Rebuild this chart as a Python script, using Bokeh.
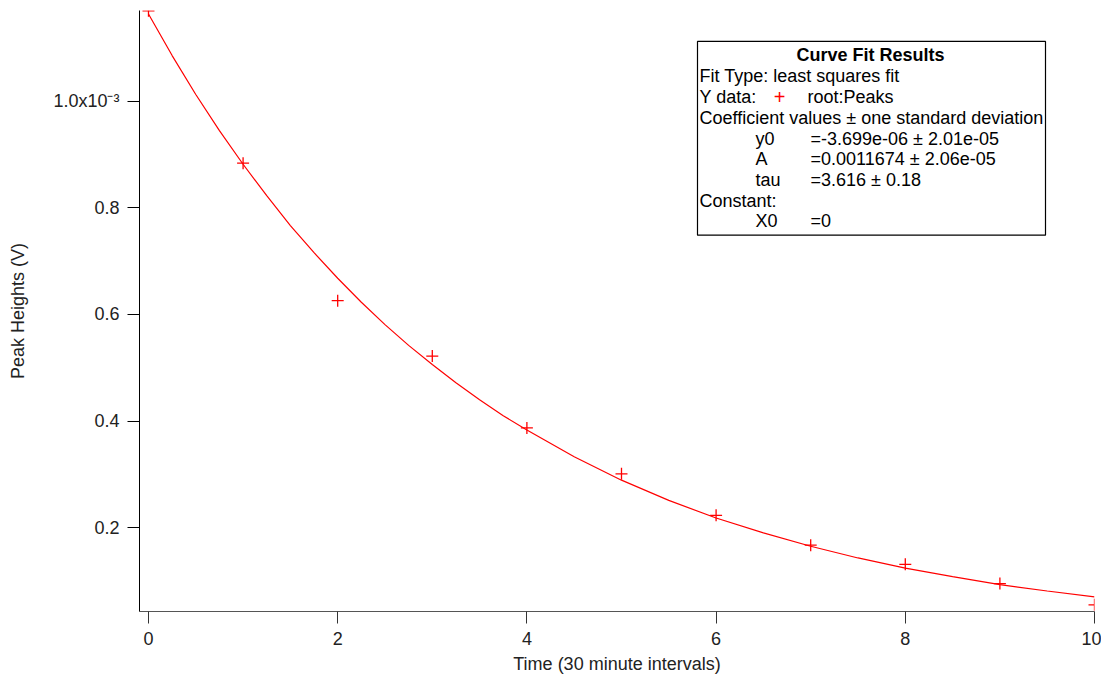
from bokeh.plotting import figure
from bokeh.models import Range1d, FixedTicker, BoxAnnotation, Label
from bokeh.embed import file_html
from bokeh.resources import INLINE

# peak heights, in units of 1e-3 V
time = [0, 1, 2, 3, 4, 5, 6, 7, 8, 9, 10]
peaks = [1.170, 0.884, 0.626, 0.522, 0.387, 0.301, 0.223, 0.167, 0.131, 0.095, 0.055]

# fitted curve
fit_time = [0, 0.25, 0.5, 0.75, 1, 1.25, 1.5, 1.75, 2, 2.25, 2.5, 2.75, 3, 3.25, 3.5, 3.75,
            4, 4.5, 5, 5.5, 6, 6.5, 7, 7.5, 8, 8.5, 9, 9.5, 10]
fit_peaks = [1.164, 1.086, 1.013, 0.945, 0.882, 0.823, 0.767, 0.716, 0.668, 0.623, 0.581,
             0.542, 0.506, 0.472, 0.440, 0.410, 0.383, 0.333, 0.289, 0.251, 0.218, 0.190,
             0.165, 0.143, 0.124, 0.108, 0.093, 0.081, 0.070]

y_ticks = [0.2, 0.4, 0.6, 0.8, 1.0]
y_labels = {0.2: "0.2", 0.4: "0.4", 0.6: "0.6", 0.8: "0.8", 1.0: "1.0x10\u207b\u00b3"}
x_ticks = [0, 2, 4, 6, 8, 10]

FONT = "Liberation Sans"
XS, XE = -0.095, 10.0
YS, YE = 0.0425, 1.1706

p = figure(width=1101, height=676, output_backend="svg", toolbar_location=None,
           x_range=Range1d(XS, XE), y_range=Range1d(YS, YE),
           min_border_left=139, min_border_right=7, min_border_top=10, min_border_bottom=64)
p.outline_line_color = None
p.grid.visible = False
p.background_fill_color = "white"

p.line(fit_time, fit_peaks, line_color="red", line_width=1.2)
p.scatter(time, peaks, marker="cross", size=12, line_color="red", line_width=1.3)

for ax in (p.xaxis, p.yaxis):
    ax.major_tick_in = 0
    ax.major_tick_out = 12
    ax.minor_tick_out = 0
    ax.minor_tick_in = 0
    ax.major_label_text_font = FONT
    ax.major_label_text_font_size = "18px"
    ax.major_label_text_color = "#222222"
    ax.axis_label_text_font = FONT
    ax.axis_label_text_font_size = "18px"
    ax.axis_label_text_font_style = "normal"
    ax.axis_label_text_color = "#222222"

p.xaxis.ticker = FixedTicker(ticks=x_ticks)
p.yaxis.ticker = FixedTicker(ticks=y_ticks)
p.yaxis.major_label_overrides = y_labels
p.xaxis.axis_label = "Time (30 minute intervals)"
p.yaxis.axis_label = "Peak Heights (V)"
p.xaxis.axis_line_color = "#555555"
p.xaxis.major_tick_line_color = "#333333"
p.yaxis.axis_line_color = "black"
p.yaxis.major_label_standoff = 8
p.xaxis.major_label_standoff = 8
p.yaxis.axis_label_standoff = 22
p.xaxis.axis_label_standoff = 6


# convert pixel positions of the fit results box to data units
def dx(px):
    return XS + (px - 139) * (XE - XS) / (1094 - 139)


def dy(py):
    return YE - (py - 10) * (YE - YS) / (612 - 10)


p.add_layout(BoxAnnotation(left=dx(697), right=dx(1045), top=dy(41), bottom=dy(235),
                           fill_color="white", fill_alpha=1.0,
                           line_color="black", line_width=1.2, line_alpha=1.0))


def note(px, py, txt, bold=False, color="black", align="left", size="18px"):
    p.add_layout(Label(x=dx(px), y=dy(py), text=txt, text_font=FONT, text_font_size=size,
                       text_font_style="bold" if bold else "normal", text_color=color,
                       text_align=align, text_baseline="middle"))


note(870, 55, "Curve Fit Results", bold=True, align="center")
note(699, 76, "Fit Type: least squares fit")
note(699, 97, "Y data:")
note(779, 97, "+", color="red", align="center", size="20px")
note(807, 97, "root:Peaks")
note(699, 118, "Coefficient values \u00b1 one standard deviation")
note(755, 139, "y0")
note(810, 139, "=-3.699e-06 \u00b1 2.01e-05")
note(755, 159, "A")
note(810, 159, "=0.0011674 \u00b1 2.06e-05")
note(755, 180, "tau")
note(810, 180, "=3.616 \u00b1 0.18")
note(699, 201, "Constant:")
note(755, 221, "X0")
note(810, 221, "=0")

open("out.html", "w").write(file_html(p, INLINE))
